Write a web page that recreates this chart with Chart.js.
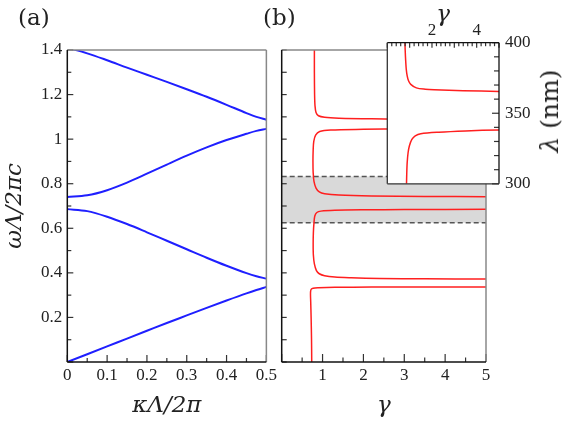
<!DOCTYPE html>
<html><head><meta charset="utf-8">
<script src="https://cdn.jsdelivr.net/npm/chart.js@4/dist/chart.umd.min.js"></script>
<style>
html,body{margin:0;padding:0;background:#fff;}
#wrap{position:relative;width:568px;height:422px;overflow:hidden;background:#fff;}
canvas{position:absolute;}
.lbl{position:absolute;font-family:"DejaVu Serif",serif;color:#222;white-space:nowrap;line-height:24px;}
</style></head>
<body><div id="wrap">
<canvas id="ca" width="280" height="422" style="left:0;top:0"></canvas>
<canvas id="cb" width="298" height="422" style="left:270px;top:0"></canvas>
<canvas id="cc" width="160" height="200" style="left:380px;top:0"></canvas>
<div class="lbl" style="left:18px;top:5px;font-size:23px">(a)</div>
<div class="lbl" style="left:263px;top:5px;font-size:23px">(b)</div>
<div class="lbl" style="left:550px;top:111px;font-size:25px;transform:translate(-50%,-50%) rotate(-90deg);"><i>λ</i> (nm)</div>
</div>
<script>
// ---- panel (a): band structure ----
const kappa = [0, 0.05, 0.1, 0.15, 0.2, 0.25, 0.3, 0.35, 0.4, 0.45, 0.475, 0.5];
const band1 = [0, 0.035, 0.07, 0.105, 0.14, 0.175, 0.209, 0.243, 0.276, 0.308, 0.323, 0.337];
const band2 = [0.686, 0.677, 0.652, 0.619, 0.582, 0.544, 0.506, 0.468, 0.432, 0.399, 0.385, 0.374];
const band3 = [0.74, 0.748, 0.771, 0.805, 0.845, 0.886, 0.926, 0.963, 0.996, 1.024, 1.037, 1.046];
const band4 = [1.41, 1.385, 1.354, 1.321, 1.289, 1.257, 1.224, 1.19, 1.154, 1.117, 1.1, 1.087];

// ---- panel (b): gamma vs frequency ----
const gammaA = [0.735, 0.73, 0.72, 0.71, 0.705, 0.707, 0.72, 0.77, 0.9, 1.3, 2.2, 3.5, 5];
const omegaA = [0, 0.1, 0.2, 0.27, 0.3, 0.316, 0.326, 0.331, 0.333, 0.335, 0.336, 0.337, 0.337];
const gammaB = [5, 3.5, 2.4, 1.7, 1.3, 1.05, 0.92, 0.85, 0.8, 0.775, 0.77, 0.775, 0.79, 0.81, 0.86, 0.96, 1.3, 2.0, 3.0, 5];
const omegaB = [0.372, 0.373, 0.375, 0.378, 0.381, 0.387, 0.396, 0.41, 0.44, 0.48, 0.53, 0.58, 0.625, 0.655, 0.671, 0.677, 0.681, 0.683, 0.684, 0.685];
const gammaC = [5, 3.5, 2.2, 1.4, 1.05, 0.92, 0.84, 0.79, 0.77, 0.765, 0.77, 0.785, 0.83, 0.93, 1.2, 2.0, 3.0, 5];
const omegaC = [0.742, 0.743, 0.745, 0.749, 0.755, 0.763, 0.78, 0.81, 0.85, 0.9, 0.95, 0.99, 1.018, 1.034, 1.041, 1.044, 1.046, 1.047];
const gammaD = [0.8, 0.8, 0.805, 0.815, 0.84, 0.9, 1.05, 1.4, 2.2, 3.5, 5];
const omegaD = [1.4, 1.3, 1.2, 1.15, 1.12, 1.105, 1.098, 1.094, 1.091, 1.089, 1.088];
const gapOmega = [0.625, 0.832];
const gapGamma = [0, 5];

// ---- inset: gamma vs wavelength ----
const gammaI1 = [0.79, 0.8, 0.82, 0.85, 0.89, 0.95, 1.05, 1.3, 1.7, 2.1, 3.4, 5];
const lambdaI1 = [400, 395, 388, 381, 376.5, 373, 370.5, 368, 367, 366.6, 366, 365.5];
const gammaI2 = [0.86, 0.87, 0.89, 0.93, 0.99, 1.1, 1.25, 1.5, 2.3, 3.5, 5];
const lambdaI2 = [300, 307, 315, 322, 327, 331.5, 334, 335.5, 336.6, 337.5, 338.2];

const xTicksA = [0, 0.1, 0.2, 0.3, 0.4, 0.5];
const yTicksA = [0.2, 0.4, 0.6, 0.8, 1, 1.2, 1.4];
const xTicksB = [1, 2, 3, 4, 5];
const xTicksI = [2, 4];
const yTicksI = [300, 350, 400];

const pts = (xs, ys) => xs.map((x, i) => ({x: x, y: ys[i]}));
const fmt = v => String(+v.toFixed(3));

const BLUE = '#1f1fff', RED = '#ff1f1f';
const tickFont = {family: '"Liberation Serif", serif', size: 17};
const titleFont = {family: '"DejaVu Serif", serif', size: 23, style: 'italic'};

const marksPlugin = {
  id: 'marks',
  beforeDraw(chart, args, opts) {
    if (opts.fillArea) {
      const a = chart.chartArea, ctx = chart.ctx;
      ctx.save(); ctx.fillStyle = opts.fillArea;
      ctx.fillRect(a.left, a.top, a.right - a.left, a.bottom - a.top);
      ctx.restore();
    }
  },
  afterDraw(chart, args, opts) {
    const ctx = chart.ctx, a = chart.chartArea;
    ctx.save();
    (opts.marks || []).forEach(m => {
      const s = chart.scales[m.axis];
      const n = Math.round((s.max - s.min) / m.step);
      ctx.strokeStyle = m.color || '#333';
      ctx.lineWidth = 1.2;
      for (let i = 0; i <= n; i++) {
        const v = s.min + i * m.step;
        const r = v / m.major;
        const len = Math.abs(r - Math.round(r)) < 1e-6 ? m.majorLen : m.minorLen;
        const p = s.getPixelForValue(v);
        ctx.beginPath();
        if (m.side === 'bottom') { ctx.moveTo(p, a.bottom); ctx.lineTo(p, a.bottom - len); }
        else if (m.side === 'top') { ctx.moveTo(p, a.top); ctx.lineTo(p, a.top + len); }
        else if (m.side === 'left') { ctx.moveTo(a.left, p); ctx.lineTo(a.left + len, p); }
        else { ctx.moveTo(a.right, p); ctx.lineTo(a.right - len, p); }
        ctx.stroke();
      }
    });
    const f = opts.frame;
    if (f) {
      const seg = (c, w, x1, y1, x2, y2) => { ctx.strokeStyle = c; ctx.lineWidth = w; ctx.beginPath(); ctx.moveTo(x1, y1); ctx.lineTo(x2, y2); ctx.stroke(); };
      seg(f.top, f.w, a.left, a.top, a.right, a.top);
      seg(f.right, f.w, a.right, a.top, a.right, a.bottom);
      seg(f.left, f.w, a.left, a.top, a.left, a.bottom);
      seg(f.bottom, f.w, a.left, a.bottom, a.right, a.bottom);
    }
    ctx.restore();
  }
};

const lineDs = (data, color, w, extra) => Object.assign({data: data, borderColor: color, borderWidth: w, pointRadius: 0, showLine: true, fill: false}, extra || {});

// Panel (a)
new Chart(document.getElementById('ca'), {
  type: 'scatter',
  data: {datasets: [
    lineDs(pts(kappa, band1), BLUE, 2, {cubicInterpolationMode: 'monotone'}),
    lineDs(pts(kappa, band2), BLUE, 2, {cubicInterpolationMode: 'monotone'}),
    lineDs(pts(kappa, band3), BLUE, 2, {cubicInterpolationMode: 'monotone'}),
    lineDs(pts(kappa, band4), BLUE, 2, {cubicInterpolationMode: 'monotone'})
  ]},
  options: {
    responsive: false, animation: false, devicePixelRatio: 1,
    layout: {padding: {left: 0, top: 50, right: 12, bottom: 0}},
    plugins: {legend: {display: false}, tooltip: {enabled: false},
      marks: {
        marks: [
          {axis: 'x', side: 'bottom', step: 0.05, major: 0.1, majorLen: 7, minorLen: 4},
          {axis: 'y', side: 'left', step: 0.1, major: 0.2, majorLen: 6, minorLen: 4}
        ],
        frame: {w: 1.5, left: '#111', bottom: '#111', top: '#888', right: '#888'}
      }},
    scales: {
      x: {type: 'linear', min: 0, max: 0.5,
        afterBuildTicks: s => { s.ticks = xTicksA.map(v => ({value: v})); },
        afterFit: s => { s.height = 60; },
        grid: {display: false, drawTicks: false}, border: {display: false},
        ticks: {font: tickFont, color: '#222', padding: 3, maxRotation: 0, callback: fmt},
        title: {display: true, text: 'κΛ/2π', font: titleFont, color: '#222', padding: {top: 0, bottom: 2.5}}},
      y: {type: 'linear', min: 0, max: 1.4,
        afterBuildTicks: s => { s.ticks = yTicksA.map(v => ({value: v})); },
        afterFit: s => { s.width = 67.3; },
        grid: {display: false, drawTicks: false}, border: {display: false},
        ticks: {font: tickFont, color: '#222', padding: 5, callback: fmt},
        title: {display: true, text: 'ωΛ/2πc', font: titleFont, color: '#222', padding: {top: 1.5, bottom: 0}}}
    }
  },
  plugins: [marksPlugin]
});

// Panel (b)
new Chart(document.getElementById('cb'), {
  type: 'scatter',
  data: {datasets: [
    lineDs(pts(gammaA, omegaA), RED, 1.5, {tension: 0.3, order: 1}),
    lineDs(pts(gammaB, omegaB), RED, 1.5, {tension: 0.3, order: 1}),
    lineDs(pts(gammaC, omegaC), RED, 1.5, {tension: 0.3, order: 1}),
    lineDs(pts(gammaD, omegaD), RED, 1.5, {tension: 0.3, order: 1}),
    lineDs(pts(gapGamma, [gapOmega[1], gapOmega[1]]), '#555', 1.5, {borderDash: [5, 3], fill: '+1', backgroundColor: '#d9d9d9', order: 3}),
    lineDs(pts(gapGamma, [gapOmega[0], gapOmega[0]]), '#555', 1.5, {borderDash: [5, 3], order: 2})
  ]},
  options: {
    responsive: false, animation: false, devicePixelRatio: 1,
    layout: {padding: {left: 11.7, top: 50, right: 82, bottom: 0}},
    plugins: {legend: {display: false}, tooltip: {enabled: false},
      marks: {
        marks: [
          {axis: 'x', side: 'bottom', step: 0.5, major: 1, majorLen: 8, minorLen: 4.5},
          {axis: 'y', side: 'left', step: 0.1, major: 0.2, majorLen: 5, minorLen: 5}
        ],
        frame: {w: 1.5, left: '#111', bottom: '#111', top: '#888', right: '#888'}
      }},
    scales: {
      x: {type: 'linear', min: 0, max: 5,
        afterBuildTicks: s => { s.ticks = xTicksB.map(v => ({value: v})); },
        afterFit: s => { s.height = 60; },
        grid: {display: false, drawTicks: false}, border: {display: false},
        ticks: {font: tickFont, color: '#222', padding: 3, maxRotation: 0, callback: fmt},
        title: {display: true, text: 'γ', font: titleFont, color: '#222', padding: {top: 0, bottom: 2.5}}},
      y: {type: 'linear', min: 0, max: 1.4, display: false}
    }
  },
  plugins: [marksPlugin]
});

// Inset
new Chart(document.getElementById('cc'), {
  type: 'scatter',
  data: {datasets: [
    lineDs(pts(gammaI1, lambdaI1), RED, 1.5, {tension: 0.3}),
    lineDs(pts(gammaI2, lambdaI2), RED, 1.5, {tension: 0.3})
  ]},
  options: {
    responsive: false, animation: false, devicePixelRatio: 1,
    layout: {padding: {left: 7.3, top: 0, right: 0, bottom: 11.7}},
    plugins: {legend: {display: false}, tooltip: {enabled: false},
      marks: {
        fillArea: '#ffffff',
        marks: [
          {axis: 'x', side: 'top', step: 0.2, major: 1, majorLen: 5, minorLen: 3.5},
          {axis: 'y', side: 'right', step: 10, major: 50, majorLen: 7, minorLen: 5}
        ],
        frame: {w: 1.3, left: '#333', bottom: '#333', top: '#111', right: '#111'}
      }},
    scales: {
      x: {type: 'linear', position: 'top', min: 0, max: 5,
        afterBuildTicks: s => { s.ticks = xTicksI.map(v => ({value: v})); },
        afterFit: s => { s.height = 42.7; },
        grid: {display: false, drawTicks: false}, border: {display: false},
        ticks: {font: tickFont, color: '#222', padding: 2, maxRotation: 0, callback: fmt},
        title: {display: true, text: 'γ', font: titleFont, color: '#222', padding: {top: 1, bottom: 0}}},
      y: {type: 'linear', position: 'right', min: 300, max: 400,
        afterBuildTicks: s => { s.ticks = yTicksI.map(v => ({value: v})); },
        afterFit: s => { s.width = 41; },
        grid: {display: false, drawTicks: false}, border: {display: false},
        ticks: {font: tickFont, color: '#222', padding: 6, callback: fmt}}
    }
  },
  plugins: [marksPlugin]
});
</script>
</body></html>
